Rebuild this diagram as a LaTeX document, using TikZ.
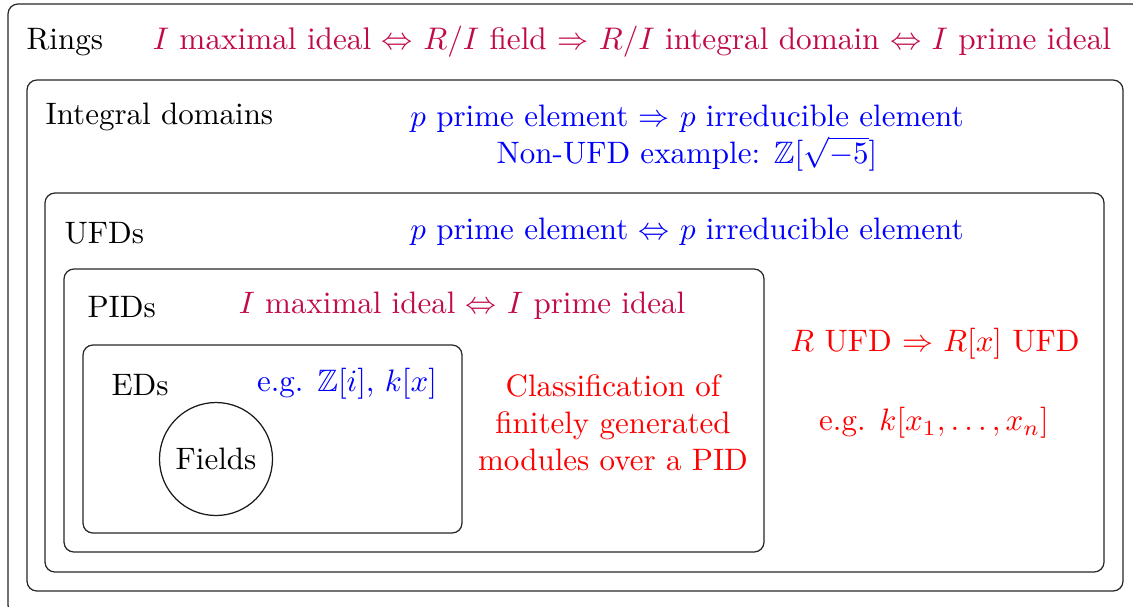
\documentclass[tikz,border=0pt]{standalone}
\usepackage{amsmath,amssymb}
\definecolor{ringcol}{RGB}{194,10,72}
\definecolor{bluecol}{RGB}{0,0,255}
\definecolor{redcol}{RGB}{255,0,0}
\begin{document}
\begin{tikzpicture}[x=0.3226pt,y=-0.3226pt,
  box/.style={draw=black!85,line width=0.4pt,rounded corners=3.2pt},
  lbl/.style={anchor=west,inner sep=0pt,text=black},
  txt/.style={inner sep=0pt,align=center}]
\useasboundingbox (0,0) rectangle (1133,606);
\draw[box] (8,4) rectangle (1142,615);
\draw[box] (27,80) rectangle (1123,591);
\draw[box] (45,193) rectangle (1104,572);
\draw[box] (64,269) rectangle (764,552);
\draw[box] (83,345) rectangle (462,533);
\node[draw=black!90,line width=0.4pt,circle,minimum size=113*0.3226pt,inner sep=0pt] (fields) at (216,459) {Fields};

\node[lbl] (rings) at (26,42) {Rings};
\node[txt,text=ringcol,scale=1.008] (ringfact) at (632,42) {$I$ maximal ideal $\Leftrightarrow$ $R/I$ field $\Rightarrow$ $R/I$ integral domain $\Leftrightarrow$ $I$ prime ideal};

\node[lbl] (id) at (45,117) {Integral domains};
\node[txt,text=bluecol,anchor=north] (idfact) at (687,104) {$p$ prime element $\Rightarrow$ $p$ irreducible element\\Non-UFD example: $\mathbb{Z}[\sqrt{-5}]$};

\node[lbl] (ufd) at (64,233) {UFDs};
\node[txt,text=bluecol] (ufdfact) at (687,232) {$p$ prime element $\Leftrightarrow$ $p$ irreducible element};
\node[txt,text=redcol] (ufdpoly) at (935,344) {$R$ UFD $\Rightarrow$ $R[x]$ UFD};
\node[txt,text=redcol] (ufdex) at (934,423) {e.g. $k[x_1,\dots,x_n]$};

\node[lbl] (pid) at (87,307) {PIDs};
\node[txt,text=ringcol] (pidfact) at (462,306) {$I$ maximal ideal $\Leftrightarrow$ $I$ prime ideal};
\node[txt,text=redcol] (pidclass) at (613,423) {Classification of\\finitely generated\\modules over a PID};

\node[lbl] (ed) at (111,385) {EDs};
\node[txt,text=bluecol] (edex) at (347,384) {e.g. $\mathbb{Z}[i]$, $k[x]$};
\end{tikzpicture}
\end{document}
